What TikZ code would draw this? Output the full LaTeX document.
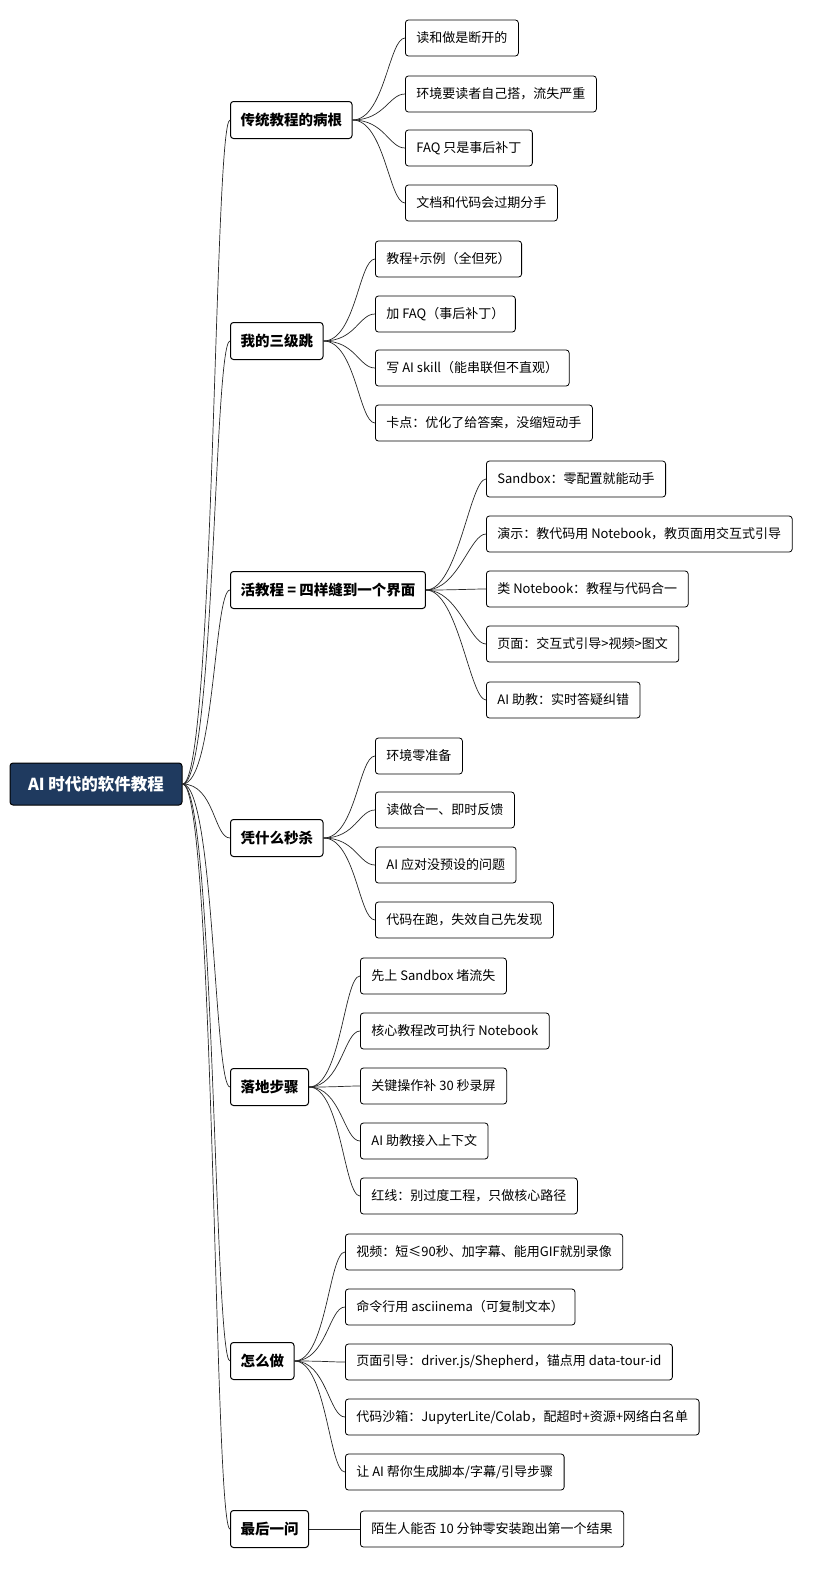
\documentclass[tikz,border=0pt]{standalone}
\usepackage{fontspec}
\setmainfont{Noto Sans CJK SC}
\usetikzlibrary{positioning}
\definecolor{rootblue}{HTML}{1F3A5F}
\tikzset{
	rootbox/.style={draw=black, fill=rootblue, text=white, rounded corners=3pt, line width=1pt,
	inner xsep=11pt, minimum height=42pt, minimum width=172pt, font=\fontsize{16.5}{19}\selectfont\bfseries},
	branch/.style={draw=black, fill=white, rounded corners=3pt, line width=1pt,
	inner xsep=10pt, minimum height=37pt, font=\fontsize{14.5}{17}\selectfont\bfseries},
	leaf/.style={draw=black, fill=white, rounded corners=3pt, line width=0.8pt,
	inner xsep=11pt, minimum height=36pt, anchor=west, font=\fontsize{13}{15}\selectfont},
	link/.style={draw=black!85, line width=0.7pt}
}
\begin{document}
\begin{tikzpicture}[x=1pt, y=-1pt]
	\useasboundingbox (0,0) rectangle (814,1571);

	% root
	\node[rootbox] (root) at (96,784) {AI 时代的软件教程};

	% branches
	\node[branch, anchor=west] (b1) at (230,120) {传统教程的病根};
	\node[branch, anchor=west] (b2) at (230,341) {我的三级跳};
	\node[branch, anchor=west] (b3) at (230,590) {活教程 = 四样缝到一个界面};
	\node[branch, anchor=west] (b4) at (230,838) {凭什么秒杀};
	\node[branch, anchor=west] (b5) at (230,1087) {落地步骤};
	\node[branch, anchor=west] (b6) at (230,1361) {怎么做};
	\node[branch, anchor=west] (b7) at (230,1529) {最后一问};

	% leaves of b1
	\node[leaf] (l11) at (405,38) {读和做是断开的};
	\node[leaf] (l12) at (405,94) {环境要读者自己搭，流失严重};
	\node[leaf] (l13) at (405,148) {FAQ 只是事后补丁};
	\node[leaf] (l14) at (405,203) {文档和代码会过期分手};

	% leaves of b2
	\node[leaf] (l21) at (375,259) {教程+示例（全但死）};
	\node[leaf] (l22) at (375,314) {加 FAQ（事后补丁）};
	\node[leaf] (l23) at (375,368) {写 AI skill（能串联但不直观）};
	\node[leaf] (l24) at (375,423) {卡点：优化了给答案，没缩短动手};

	% leaves of b3
	\node[leaf] (l31) at (486,479) {Sandbox：零配置就能动手};
	\node[leaf] (l32) at (486,534) {演示：教代码用 Notebook，教页面用交互式引导};
	\node[leaf] (l33) at (486,589) {类 Notebook：教程与代码合一};
	\node[leaf] (l34) at (486,644) {页面：交互式引导>视频>图文};
	\node[leaf] (l35) at (486,700) {AI 助教：实时答疑纠错};

	% leaves of b4
	\node[leaf] (l41) at (375,756) {环境零准备};
	\node[leaf] (l42) at (375,810) {读做合一、即时反馈};
	\node[leaf] (l43) at (375,865) {AI 应对没预设的问题};
	\node[leaf] (l44) at (375,920) {代码在跑，失效自己先发现};

	% leaves of b5
	\node[leaf] (l51) at (360,976) {先上 Sandbox 堵流失};
	\node[leaf] (l52) at (360,1031) {核心教程改可执行 Notebook};
	\node[leaf] (l53) at (360,1086) {关键操作补 30 秒录屏};
	\node[leaf] (l54) at (360,1141) {AI 助教接入上下文};
	\node[leaf] (l55) at (360,1196) {红线：别过度工程，只做核心路径};

	% leaves of b6
	\node[leaf] (l61) at (345,1252) {视频：短≤90秒、加字幕、能用GIF就别录像};
	\node[leaf] (l62) at (345,1307) {命令行用 asciinema（可复制文本）};
	\node[leaf] (l63) at (345,1362) {页面引导：driver.js/Shepherd，锚点用 data-tour-id};
	\node[leaf] (l64) at (345,1417) {代码沙箱：JupyterLite/Colab，配超时+资源+网络白名单};
	\node[leaf] (l65) at (345,1472) {让 AI 帮你生成脚本/字幕/引导步骤};

	% leaf of b7
	\node[leaf] (l71) at (360,1529) {陌生人能否 10 分钟零安装跑出第一个结果};

	% connectors
	\foreach \b in {b1,b2,b3,b4,b5,b6,b7}
		\draw[link] (root.east) .. controls +(32,0) and +(-16,0) .. (\b.west);
	\foreach \l in {l11,l12,l13,l14}
		\draw[link] (b1.east) .. controls +(32,0) and +(-16,0) .. (\l.west);
	\foreach \l in {l21,l22,l23,l24}
		\draw[link] (b2.east) .. controls +(32,0) and +(-16,0) .. (\l.west);
	\foreach \l in {l31,l32,l33,l34,l35}
		\draw[link] (b3.east) .. controls +(32,0) and +(-16,0) .. (\l.west);
	\foreach \l in {l41,l42,l43,l44}
		\draw[link] (b4.east) .. controls +(32,0) and +(-16,0) .. (\l.west);
	\foreach \l in {l51,l52,l53,l54,l55}
		\draw[link] (b5.east) .. controls +(32,0) and +(-16,0) .. (\l.west);
	\foreach \l in {l61,l62,l63,l64,l65}
		\draw[link] (b6.east) .. controls +(32,0) and +(-16,0) .. (\l.west);
	\draw[link] (b7.east) -- (l71.west);

\end{tikzpicture}
\end{document}
